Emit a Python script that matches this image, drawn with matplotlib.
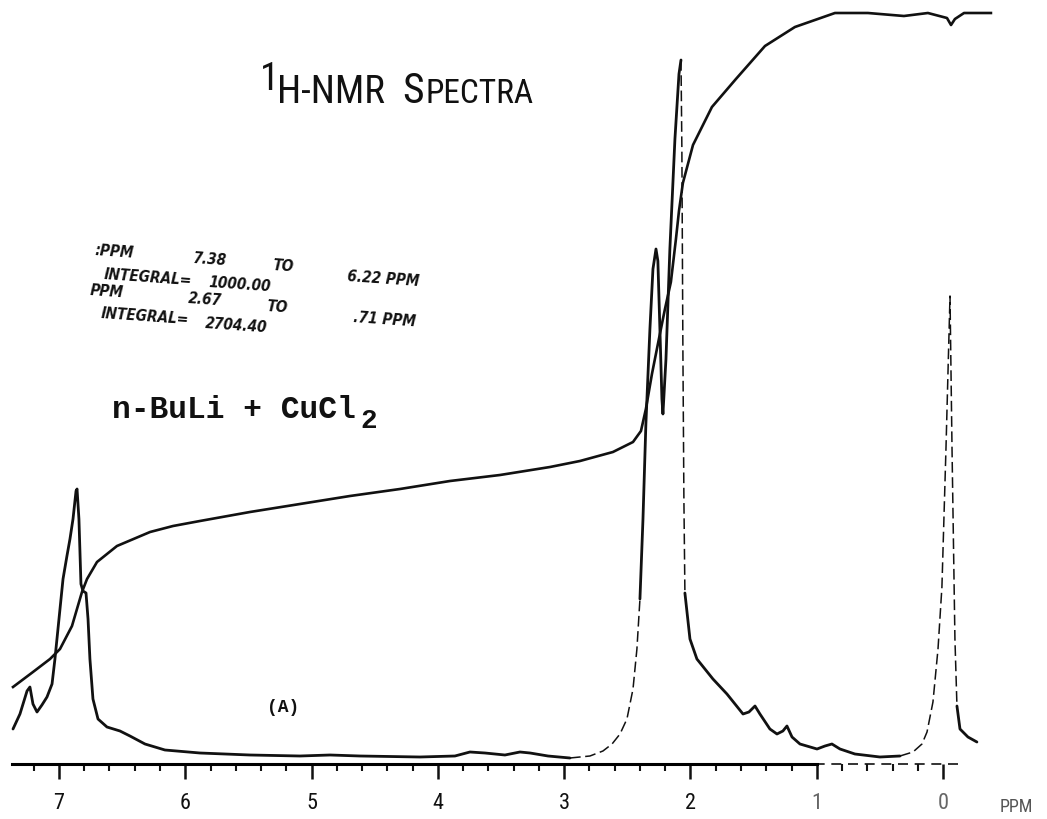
import matplotlib
matplotlib.use('Agg')
import matplotlib.pyplot as plt
import matplotlib.ticker as mticker
import numpy as np

# ── Spectrum trace (ppm, pen height above the axis) ──
spec_ppm = [7.364, 7.309, 7.253, 7.230, 7.206, 7.174, 7.135, 7.095, 7.055, 7.032,
            7.000, 6.968, 6.937, 6.913, 6.889, 6.865, 6.857, 6.842, 6.826, 6.810,
            6.786, 6.770, 6.755, 6.731, 6.691, 6.620, 6.517, 6.438, 6.319, 6.161,
            5.884, 5.488, 5.092, 4.854, 4.617, 4.142, 3.865, 3.746, 3.627, 3.469,
            3.350, 3.270, 3.128, 2.954, 2.796, 2.693, 2.621, 2.558, 2.503, 2.455,
            2.424, 2.400, 2.376, 2.353, 2.321, 2.297, 2.273, 2.258, 2.242, 2.226,
            2.218, 2.194, 2.163, 2.123, 2.091, 2.075, 2.068, 2.060, 2.052, 2.044,
            2.004, 1.949, 1.822, 1.711, 1.584, 1.537, 1.489, 1.450, 1.371, 1.315,
            1.268, 1.236, 1.196, 1.133, 0.998, 0.935, 0.880, 0.816, 0.698, 0.500,
            0.341, 0.238, 0.167, 0.127, 0.080, 0.040, 0.009, -0.023, -0.055, -0.071,
            -0.094, -0.110, -0.134, -0.197, -0.268]
spec_int = [35, 50, 73, 77, 60, 52, 59, 67, 80, 105,
            145, 185, 208, 225, 245, 273, 275, 245, 180, 173,
            171, 145, 105, 65, 45, 37, 33, 28, 20, 14,
            11, 9, 8, 9, 8, 7, 8, 12, 11, 9,
            12, 11, 8, 6, 8, 13, 20, 30, 45, 75,
            115, 165, 245, 340, 435, 495, 515, 503, 435, 365,
            350, 405, 515, 625, 690, 704, 615, 415, 265, 171,
            125, 105, 85, 70, 50, 52, 58, 50, 35, 30,
            33, 38, 27, 20, 15, 18, 20, 15, 10, 7,
            8, 12, 20, 32, 62, 115, 177, 315, 468, 315,
            125, 58, 35, 27, 22]

# ── Integral trace ──
integ_ppm = [7.364, 7.206, 7.071, 6.992, 6.897, 6.818, 6.778, 6.699, 6.541, 6.279,
             6.097, 5.884, 5.488, 5.092, 4.696, 4.300, 3.904, 3.508, 3.112, 2.875,
             2.614, 2.455, 2.392, 2.353, 2.305, 2.250, 2.202, 2.155, 2.115, 2.091,
             2.060, 1.980, 1.830, 1.640, 1.410, 1.173, 0.856, 0.595, 0.310, 0.120,
             -0.031, -0.063, -0.094, -0.166, -0.379]
integ_int = [77, 92, 105, 115, 138, 172, 185, 202, 218, 232,
             238, 243, 252, 260, 268, 275, 283, 289, 297, 303,
             312, 322, 333, 355, 390, 425, 455, 482, 525, 553,
             581, 619, 657, 685, 718, 737, 751, 751, 748, 751,
             746, 739, 745, 751, 751]

# ppm windows where the recorder pen moved fast and left a faint dashed trace
faint_windows = [(2.40, 2.80), (2.044, 2.075), (-0.11, 0.24)]

major_ticks = [7, 6, 5, 4, 3, 2, 1, 0]
tick_labels = ['7', '6', '5', '4', '3', '2', '1', '0']

printout = [  # integral printout fragments
    (':PPM', 95, 251), ('7.38', 193, 259), ('TO', 273, 266),
    ('INTEGRAL=', 104, 275), ('1000.00', 209, 283), ('6.22 PPM', 347, 277),
    ('PPM', 90, 291), ('2.67', 188, 299), ('TO', 267, 307),
    ('INTEGRAL=', 101, 314), ('2704.40', 205, 324), ('.71 PPM', 353, 318),
]

W, H = 1047, 820
INK = '#111111'
NARROW = ['Roboto Condensed', 'DejaVu Sans']

fig = plt.figure(figsize=(W / 100, H / 100), dpi=100)
ax = fig.add_axes([0, 0, 1, 1])
ax.set_xlim(7.467, -0.823)
ax.set_ylim(-55, 765)

def px(x, y):
    return x / W, 1 - y / H

# spectrum: solid where the pen was slow, thin dashed where it was fast
ppm = np.array(spec_ppm)
inten = np.array(spec_int, dtype=float)
faint = np.zeros(len(ppm), dtype=bool)
for lo, hi in faint_windows:
    faint |= (ppm > lo) & (ppm < hi)
near = faint.copy()
near[1:] |= faint[:-1]
near[:-1] |= faint[1:]
ax.plot(ppm, np.ma.masked_where(faint, inten), color=INK, lw=2.0,
        solid_capstyle='round', solid_joinstyle='round')
ax.plot(ppm, np.ma.masked_where(~near, inten), color=INK, lw=1.1,
        ls=(0, (7, 3)))

# integral
ax.plot(integ_ppm, integ_int, color=INK, lw=1.9, solid_joinstyle='round')

# axis
for s in ['top', 'left', 'right']:
    ax.spines[s].set_visible(False)
ax.spines['bottom'].set_position(('data', 0))
ax.spines['bottom'].set_bounds(1.0, 7.37)
ax.spines['bottom'].set_linewidth(2.2)
ax.hlines(0, -0.12, 1.0, color=INK, lw=1.2, linestyles=(0, (6, 4)))
ax.set_yticks([])
ax.xaxis.set_major_locator(mticker.FixedLocator(major_ticks))
ax.xaxis.set_minor_locator(mticker.FixedLocator(np.arange(0, 7.3, 0.2)))
ax.set_xticklabels(tick_labels, family=NARROW)
ax.tick_params(axis='x', which='major', direction='out', length=11, width=1.8,
               pad=9, labelsize=16, colors=INK)
ax.tick_params(axis='x', which='minor', direction='out', length=5, width=1.5,
               colors=INK)
for lab in ax.get_xticklabels()[-2:]:
    lab.set_color('#666666')
ax.text(*px(1000, 812), 'PPM', transform=ax.transAxes, fontsize=13,
        color='#555555', va='baseline', ha='left', family=NARROW)

# title
ax.text(*px(279, 90), '1', transform=ax.transAxes, fontsize=28, ha='right',
        va='baseline', family=NARROW, color=INK)
ax.text(*px(385, 103), 'H-NMR', transform=ax.transAxes, fontsize=28, ha='right',
        va='baseline', family=NARROW, color=INK)
ax.text(*px(402, 103), 'S', transform=ax.transAxes, fontsize=30, ha='left',
        va='baseline', family=NARROW, color=INK)
ax.text(*px(425, 103), 'PECTRA', transform=ax.transAxes, fontsize=24, ha='left',
        va='baseline', family=NARROW, color=INK)

# integral printout
for txt, x, y in printout:
    ax.text(*px(x, y), txt, transform=ax.transAxes, fontsize=11,
            fontweight='bold', style='italic', family='DejaVu Sans',
            fontstretch='condensed', color=INK,
            ha='left', va='center', rotation=-4, rotation_mode='anchor')

# sample label
ax.text(*px(112, 418), 'n-BuLi + CuCl', transform=ax.transAxes,
        fontsize=22.5, fontweight='bold', family='Liberation Mono', color=INK,
        ha='left', va='baseline')
ax.text(*px(360, 428), '2', transform=ax.transAxes, fontsize=20,
        fontweight='bold', family='Liberation Mono', color=INK,
        ha='left', va='baseline')

ax.text(*px(283, 712), '(A)', transform=ax.transAxes, fontsize=13,
        fontweight='bold', family='Liberation Mono', color=INK,
        ha='center', va='baseline')

fig.savefig('out.png', dpi=100)
